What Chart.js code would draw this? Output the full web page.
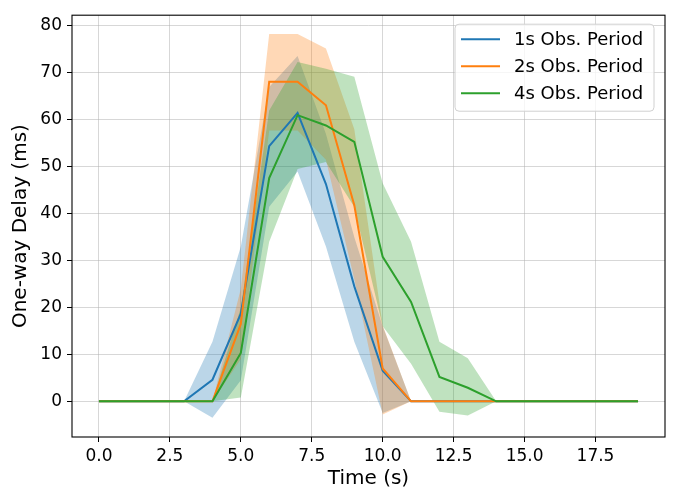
<!DOCTYPE html>
<html lang="en">
<head>
    <meta charset="UTF-8"/>
    <title>One-way Delay</title>
    <script src="https://cdn.jsdelivr.net/npm/chart.js"></script>
    <style>
        html, body { margin: 0; padding: 0; background: #fff; }
        .chart-container { width: 677px; height: 491px; }
    </style>
</head>
<body>
    <div class="chart-container">
        <canvas id="myChart" width="677" height="491"></canvas>
    </div>
    <script>
        // time axis (s)
        var times = [0, 1, 2, 3, 4, 5, 6, 7, 8, 9, 10, 11, 12, 13, 14, 15, 16, 17, 18, 19];

        // 1s observation period
        var mean1s = [0, 0, 0, 0, 4.6, 18.7, 54.4, 61.5, 46.3, 24.5, 6.5, 0, 0, 0, 0, 0, 0, 0, 0, 0];
        var low1s  = [0, 0, 0, 0, -3.5, 4.5, 41.5, 49, 33, 12.7, -2.5, 0, 0, 0, 0, 0, 0, 0, 0, 0];
        var high1s = [0, 0, 0, 0, 12.7, 33, 67, 73.6, 57, 35, 16, 0, 0, 0, 0, 0, 0, 0, 0, 0];

        // 2s observation period
        var mean2s = [0, 0, 0, 0, 0, 16.5, 68.1, 68.1, 63.1, 41.8, 7, 0, 0, 0, 0, 0, 0, 0, 0, 0];
        var low2s  = [0, 0, 0, 0, 0, 9, 57.7, 57.7, 51.5, 26, -2.8, 0, 0, 0, 0, 0, 0, 0, 0, 0];
        var high2s = [0, 0, 0, 0, 0, 24, 78.3, 78.3, 75.2, 58, 16.2, 0, 0, 0, 0, 0, 0, 0, 0, 0];

        // 4s observation period
        var mean4s = [0, 0, 0, 0, 0, 10.3, 47.6, 61, 58.8, 55.3, 30.8, 21.2, 5.2, 2.9, 0, 0, 0, 0, 0, 0];
        var low4s  = [0, 0, 0, 0, 0, 0.8, 34, 49.5, 51, 41.4, 16, 8, -2.2, -3, 0, 0, 0, 0, 0, 0];
        var high4s = [0, 0, 0, 0, 0, 20, 62, 72.3, 70.9, 69.2, 46.5, 34, 12.7, 9.2, 0, 0, 0, 0, 0, 0];

        var seriesNames = ['1s Obs. Period', '2s Obs. Period', '4s Obs. Period'];
        var xTicks = [0, 2.5, 5, 7.5, 10, 12.5, 15, 17.5];
        var yTicks = [0, 10, 20, 30, 40, 50, 60, 70, 80];

        var colors = ['#1f77b4', '#ff7f0e', '#2ca02c'];
        var fills = ['rgba(31,119,180,0.3)', 'rgba(255,127,14,0.3)', 'rgba(44,160,44,0.3)'];
        var FONT = "'DejaVu Sans', sans-serif";

        function pts(arr) {
            return times.map(function (t, i) { return { x: t, y: arr[i] }; });
        }

        var means = [mean1s, mean2s, mean4s];
        var lows = [low1s, low2s, low4s];
        var highs = [high1s, high2s, high4s];

        var datasets = [];
        // bands: blue drawn first, green last
        for (var i = 0; i < 3; i++) {
            datasets.push({
                data: pts(highs[i]), borderWidth: 0, pointRadius: 0,
                fill: false, order: 3 - i
            });
            datasets.push({
                data: pts(lows[i]), borderWidth: 0, pointRadius: 0,
                fill: '-1', backgroundColor: fills[i], order: 3 - i
            });
        }
        for (var j = 0; j < 3; j++) {
            datasets.push({
                label: seriesNames[j], data: pts(means[j]),
                borderColor: colors[j], borderWidth: 2, pointRadius: 0,
                fill: false, order: 0.2 - j * 0.1
            });
        }

        // full box frame + legend inside plot
        var framePlugin = {
            id: 'frame',
            afterDraw: function (chart) {
                var ctx = chart.ctx, a = chart.chartArea;
                ctx.save();
                ctx.strokeStyle = '#000';
                ctx.lineWidth = 1.1;
                ctx.strokeRect(a.left, a.top, a.right - a.left, a.bottom - a.top);

                var bx = a.right - 210, by = a.top + 9, bw = 199, bh = 87;
                ctx.beginPath();
                ctx.roundRect(bx, by, bw, bh, 4);
                ctx.fillStyle = 'rgba(255,255,255,0.8)';
                ctx.fill();
                ctx.strokeStyle = '#d0d0d0';
                ctx.lineWidth = 1;
                ctx.stroke();

                ctx.font = '18px ' + FONT;
                ctx.textBaseline = 'middle';
                ctx.fillStyle = '#000';
                for (var k = 0; k < 3; k++) {
                    var ry = by + 15 + k * 27;
                    ctx.beginPath();
                    ctx.moveTo(bx + 6, ry);
                    ctx.lineTo(bx + 45, ry);
                    ctx.strokeStyle = colors[k];
                    ctx.lineWidth = 2;
                    ctx.stroke();
                    ctx.fillText(seriesNames[k], bx + 59, ry + 1);
                }
                ctx.restore();
            }
        };

        var gridColor = 'rgba(176,176,176,0.5)';

        new Chart(document.getElementById('myChart'), {
            type: 'line',
            data: { datasets: datasets },
            options: {
                responsive: false,
                animation: false,
                layout: { padding: { left: 0, top: 5, right: 12, bottom: 0 } },
                plugins: {
                    legend: { display: false },
                    tooltip: { enabled: false }
                },
                scales: {
                    x: {
                        type: 'linear', min: -0.95, max: 19.95,
                        afterBuildTicks: function (s) { s.ticks = xTicks.map(function (v) { return { value: v }; }); },
                        afterFit: function (s) { s.height = 54; },
                        ticks: {
                            callback: function (v) { return v.toFixed(1); },
                            color: '#000', font: { family: FONT, size: 17 }, padding: 4, maxRotation: 0, autoSkip: false
                        },
                        grid: { color: gridColor, lineWidth: 1, tickLength: 5, tickColor: '#000' },
                        border: { display: false },
                        title: { display: true, text: 'Time (s)', color: '#000', font: { family: FONT, size: 20 }, padding: { top: 2, bottom: 0 } }
                    },
                    y: {
                        type: 'linear', min: -7.6, max: 82.3,
                        afterBuildTicks: function (s) { s.ticks = yTicks.map(function (v) { return { value: v }; }); },
                        afterFit: function (s) { s.width = 72; },
                        ticks: {
                            color: '#000', font: { family: FONT, size: 17 }, padding: 5, autoSkip: false
                        },
                        grid: { color: gridColor, lineWidth: 1, tickLength: 5, tickColor: '#000' },
                        border: { display: false },
                        title: { display: true, text: 'One-way Delay (ms)', color: '#000', font: { family: FONT, size: 20 }, padding: { top: 9, bottom: 4 } }
                    }
                }
            },
            plugins: [framePlugin]
        });
    </script>
</body>
</html>
